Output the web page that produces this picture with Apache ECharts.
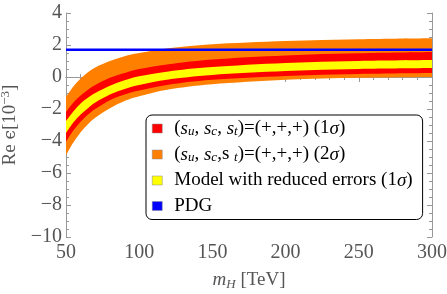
<!DOCTYPE html>
<html><head><meta charset="utf-8">
<script src="https://cdn.jsdelivr.net/npm/echarts@6/dist/echarts.min.js"></script>
<style>html,body{margin:0;padding:0;background:#fff}#c{width:447px;height:294px}</style>
</head><body><div id="c"></div>
<script>
// m_H values (TeV)
const mH          = [50,    55,    60,    65,    70,    80,    90,    100,   120,   150,   200,   250,   300];
// 2 sigma band (orange)
const orangeUpper = [-1.25, -0.6,  -0.1,  0.3,   0.6,   1.0,   1.3,   1.5,   1.8,   2.05,  2.25,  2.36,  2.42];
const orangeLower = [-4.9,  -4.1,  -3.45, -2.95, -2.55, -1.95, -1.5,  -1.2,  -0.78, -0.45, -0.17, -0.05, 0.0];
// 1 sigma band (red)
const redUpper    = [-2.2,  -1.6,  -1.15, -0.8,  -0.5,  -0.05, 0.25,  0.5,   0.8,   1.1,   1.35,  1.48,  1.56];
const redLower    = [-4.05, -3.35, -2.8,  -2.35, -2.0,  -1.45, -1.1,  -0.85, -0.48, -0.17, 0.07,  0.19,  0.25];
// reduced errors band (yellow)
const yellowUpper = [-2.75, -2.15, -1.65, -1.3,  -1.0,  -0.55, -0.2,  0.05,  0.35,  0.62,  0.87,  1.0,   1.06];
const yellowLower = [-3.5,  -2.85, -2.35, -1.95, -1.6,  -1.1,  -0.75, -0.5,  -0.15, 0.13,  0.37,  0.5,   0.56];
// PDG value
const pdgValue = 1.7;
const xRange = [50, 300];
const yRange = [-10, 4];

const legendText = {
  red1: '{g|}{n|(}{i|s}{isub|u}{n|, }{i|s}{isub|c}{n|, }{i|s}{isub|t}{n|)=(+,+,+) (1}{i|σ}{n|)}',
  orange2: '{g|}{n|(}{i|s}{isub|u}{n|, }{i|s}{isub|c}{n|,s }{isub|t}{n|)=(+,+,+) (2}{i|σ}{n|)}',
  yellow1: '{g|}{n|Model with reduced errors (1}{i|σ}{n|)}',
  PDG: '{g|}{n|PDG}'
};

const FONT = 'Liberation Serif';
const GRAY = '#999';
const LBL = '#555';

// Catmull-Rom -> cubic Bezier path through pixel points
function curve(pts, start) {
  let d = start ? ('M' + pts[0][0] + ' ' + pts[0][1]) : ('L' + pts[0][0] + ' ' + pts[0][1]);
  for (let i = 0; i < pts.length - 1; i++) {
    const p0 = pts[Math.max(0, i - 1)], p1 = pts[i], p2 = pts[i + 1], p3 = pts[Math.min(pts.length - 1, i + 2)];
    const c1 = [p1[0] + (p2[0] - p0[0]) / 6, p1[1] + (p2[1] - p0[1]) / 6];
    const c2 = [p2[0] - (p3[0] - p1[0]) / 6, p2[1] - (p3[1] - p1[1]) / 6];
    d += ' C' + c1[0] + ' ' + c1[1] + ' ' + c2[0] + ' ' + c2[1] + ' ' + p2[0] + ' ' + p2[1];
  }
  return d;
}

function band(lower, upper, name, color) {
  return {
    type: 'custom', name: name, coordinateSystem: 'cartesian2d', xAxisIndex: 0, yAxisIndex: 0,
    silent: true, clip: true,
    itemStyle: { color: color },
    data: mH.map((x, i) => [x, lower[i], upper[i]]),
    encode: { x: 0, y: [1, 2] },
    renderItem: function (params, api) {
      if (params.dataIndex !== 0) return null;
      const up = mH.map((x, i) => api.coord([x, upper[i]]));
      const lo = mH.map((x, i) => api.coord([x, lower[i]])).reverse();
      const d = curve(up, true) + ' ' + curve(lo, false) + ' Z';
      return { type: 'path', shape: { pathData: d }, style: { fill: color, stroke: null } };
    }
  };
}

function fmtNum(v) { return v < 0 ? '\u2212' + Math.abs(v) : String(v); }

const axisCommon = {
  type: 'value',
  axisLine: { show: true, lineStyle: { color: GRAY, width: 1 } },
  axisTick: { show: true, inside: true, length: 5, lineStyle: { color: GRAY } },
  minorTick: { show: true, length: 3, lineStyle: { color: GRAY } },
  splitLine: { show: false },
  minorSplitLine: { show: false }
};

const chart = echarts.init(document.getElementById('c'), null, { renderer: 'canvas' });
chart.setOption({
  animation: false,
  backgroundColor: '#fff',
  grid: { left: 66, right: 15, top: 13, bottom: 57, containLabel: false, outerBoundsMode: 'none' },
  xAxis: [
    Object.assign({}, axisCommon, {
      position: 'bottom', min: xRange[0], max: xRange[1], interval: 50,
      minorTick: Object.assign({}, axisCommon.minorTick, { splitNumber: 5 }),
      axisLabel: { fontFamily: FONT, fontSize: 20, color: LBL, margin: 6, formatter: fmtNum },
      name: '{i|m}{isub|H}{n| [TeV]}', nameLocation: 'middle', nameGap: 32,
      nameTextStyle: { fontFamily: FONT, fontSize: 19, color: LBL, rich: {
        n: { fontFamily: FONT, fontSize: 19, color: LBL, lineHeight: 22 },
        i: { fontFamily: FONT, fontSize: 19, fontStyle: 'italic', color: LBL, lineHeight: 22 },
        isub: { fontFamily: FONT, fontSize: 13, fontStyle: 'italic', color: LBL, lineHeight: 14, verticalAlign: 'bottom' }
      } }
    }),
    Object.assign({}, axisCommon, {
      position: 'top', min: xRange[0], max: xRange[1], interval: 50,
      minorTick: Object.assign({}, axisCommon.minorTick, { splitNumber: 5 }),
      axisLabel: { show: false }
    })
  ],
  yAxis: [
    Object.assign({}, axisCommon, {
      position: 'left', min: yRange[0], max: yRange[1], interval: 2,
      minorTick: Object.assign({}, axisCommon.minorTick, { splitNumber: 4 }),
      axisLabel: { fontFamily: FONT, fontSize: 20, color: LBL, margin: 4, formatter: fmtNum },
      name: '{n|Re }{e|\u03F5}{n|[10}{sup|\u22123}{n|]}', nameLocation: 'middle', nameGap: 42, nameRotate: 90,
      nameTextStyle: { fontFamily: FONT, fontSize: 19, color: LBL, rich: {
        n: { fontFamily: FONT, fontSize: 19, color: LBL, lineHeight: 22 },
        e: { fontFamily: 'DejaVu Serif', fontSize: 17, color: LBL, lineHeight: 22 },
        sup: { fontFamily: FONT, fontSize: 13, color: LBL, lineHeight: 14, verticalAlign: 'top' }
      } }
    }),
    Object.assign({}, axisCommon, {
      position: 'right', min: yRange[0], max: yRange[1], interval: 2,
      minorTick: Object.assign({}, axisCommon.minorTick, { splitNumber: 4 }),
      axisLabel: { show: false }
    })
  ],
  legend: {
    show: true, orient: 'vertical', left: 146, top: 115,
    icon: 'rect', itemWidth: 10, itemHeight: 9, itemGap: 6.5,
    padding: [4, 10, 4, 6],
    borderColor: '#000', borderWidth: 1, borderRadius: 6, backgroundColor: '#fff',
    selectedMode: false,
    data: [
      { name: 'red1', itemStyle: { color: '#FF0000', borderColor: '#888', borderWidth: 0.5 } },
      { name: 'orange2', itemStyle: { color: '#FF8000', borderColor: '#888', borderWidth: 0.5 } },
      { name: 'yellow1', itemStyle: { color: '#FFFF00', borderColor: '#888', borderWidth: 0.5 } },
      { name: 'PDG', itemStyle: { color: '#0000FF', borderColor: '#888', borderWidth: 0.5 } }
    ],
    formatter: n => legendText[n],
    textStyle: { fontFamily: FONT, fontSize: 19, color: '#000', rich: {
      g: { width: 7 },
      n: { fontFamily: FONT, fontSize: 19, color: '#000', lineHeight: 20 },
      i: { fontFamily: FONT, fontSize: 19, fontStyle: 'italic', color: '#000', lineHeight: 20 },
      isub: { fontFamily: FONT, fontSize: 13, fontStyle: 'italic', color: '#000', lineHeight: 13, verticalAlign: 'bottom' }
    } }
  },
  series: [
    band(orangeLower, orangeUpper, 'orange2', '#FF8000'),
    band(redLower, redUpper, 'red1', '#FF0000'),
    band(yellowLower, yellowUpper, 'yellow1', '#FFFF00'),
    {
      type: 'line', name: 'PDG', data: [[xRange[0], pdgValue], [xRange[1], pdgValue]],
      symbol: 'none', lineStyle: { color: '#0000FF', width: 2.5 }, itemStyle: { color: '#0000FF' },
      silent: true, z: 5, xAxisIndex: 0, yAxisIndex: 0
    }
  ]
});
</script></body></html>
